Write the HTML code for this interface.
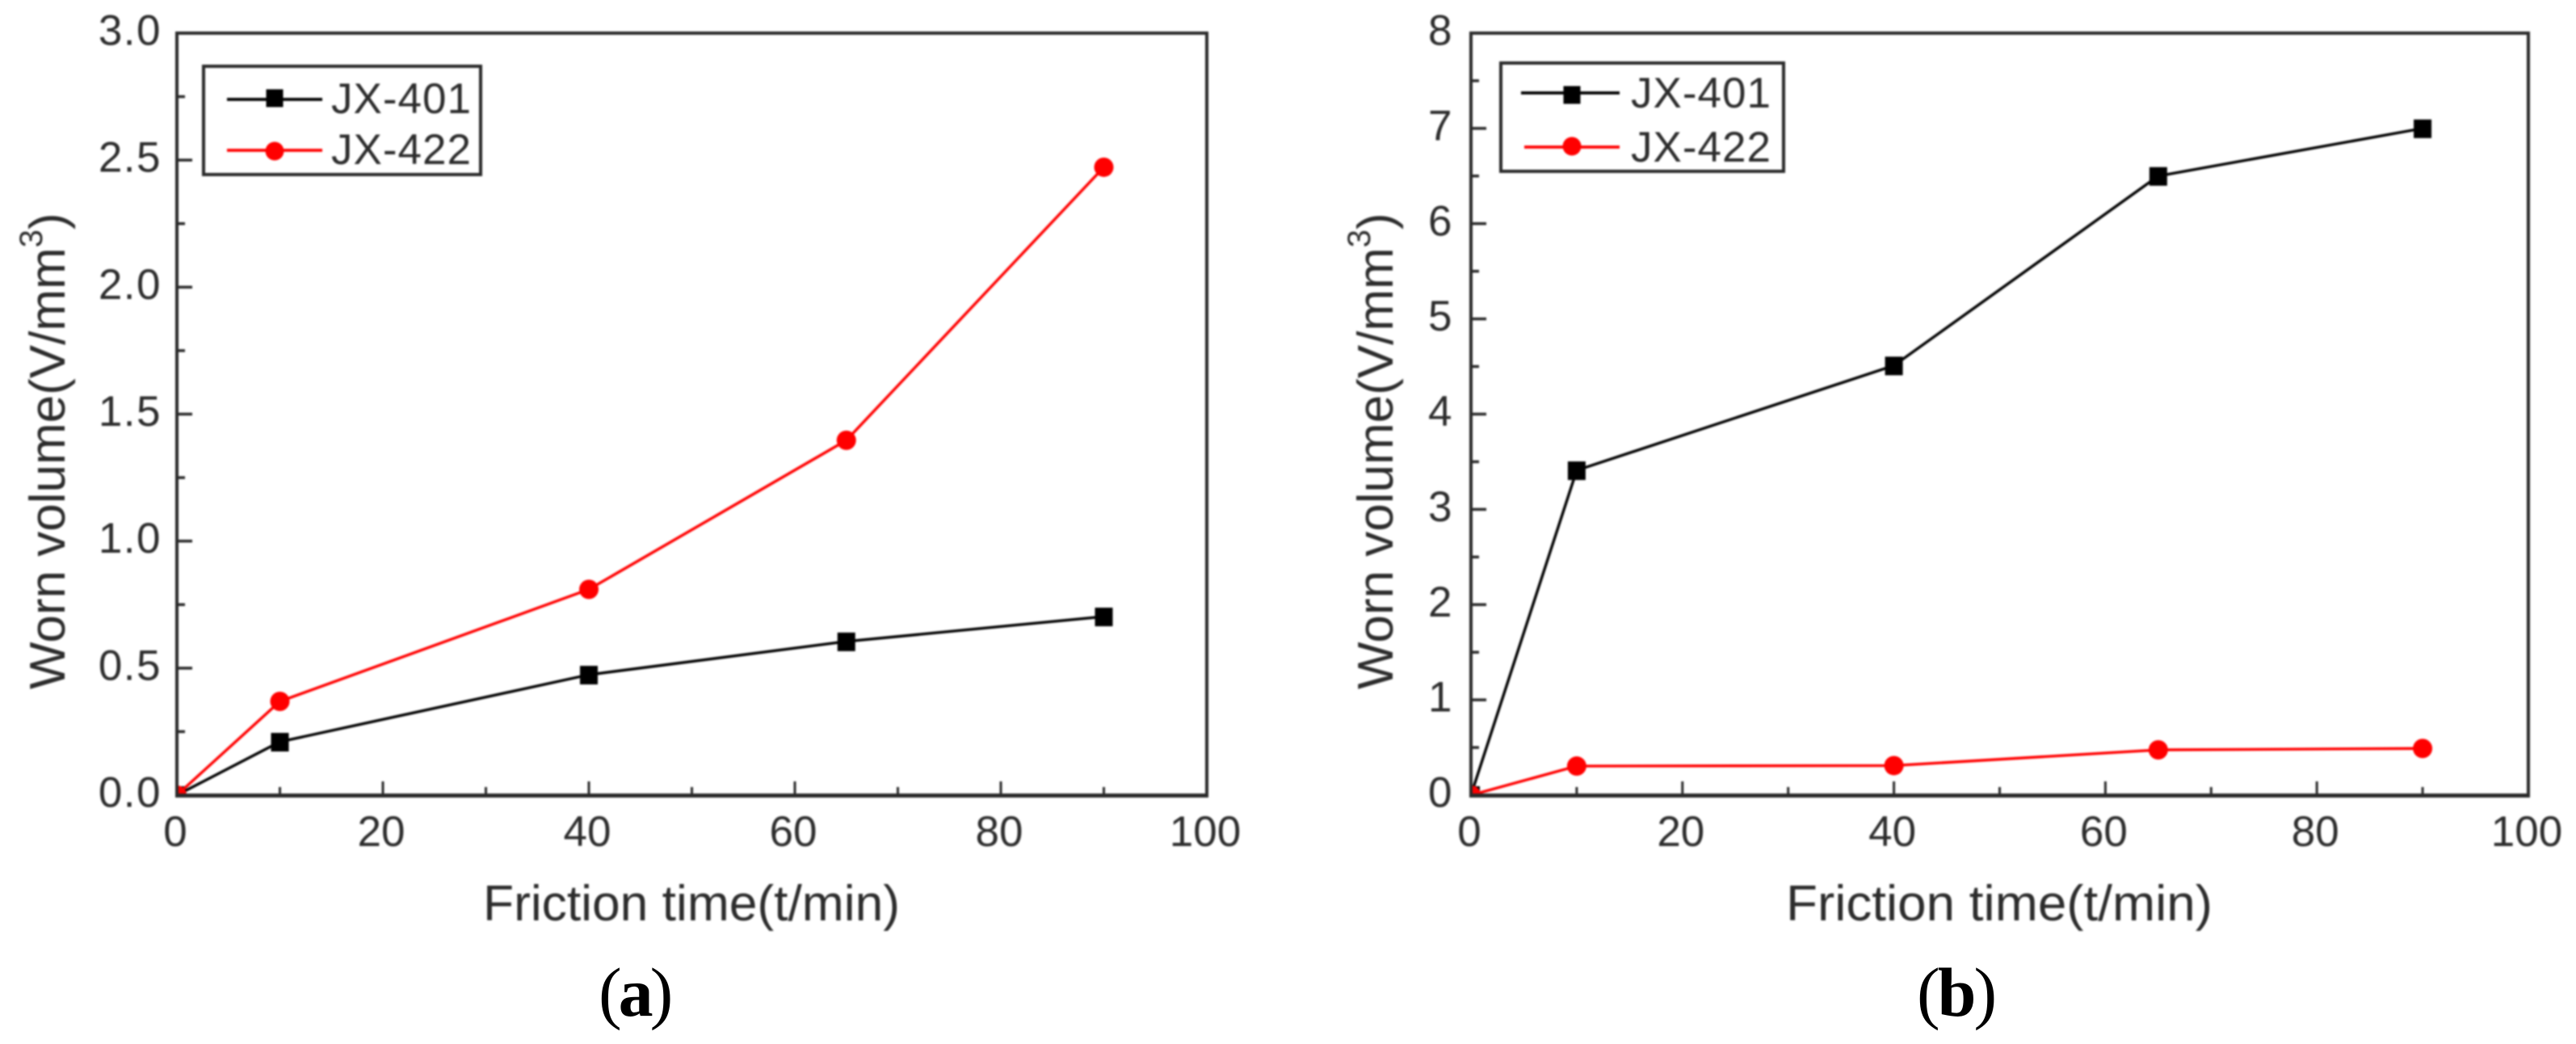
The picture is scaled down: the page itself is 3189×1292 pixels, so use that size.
<!DOCTYPE html>
<html lang="en">
<head>
<meta charset="utf-8">
<title>Worn volume vs friction time</title>
<style>
html,body{margin:0;padding:0;background:#fff;width:3189px;height:1292px;overflow:hidden}
svg{display:block}
text{font-family:"Liberation Sans",sans-serif;fill:#2c2c2c}
.cap{font-family:"Liberation Serif",serif;fill:#000}
</style>
</head>
<body>
<svg id="chart" xmlns="http://www.w3.org/2000/svg" width="3189" height="1292" viewBox="0 0 3189 1292">
  <rect width="3189" height="1292" fill="#fff"/>
</svg>
<script>
const frictionTimes = [0, 10, 40, 65, 90];
const panelAJX401 = [0, 0.21, 0.474, 0.605, 0.703];
const panelAJX422 = [0, 0.369, 0.81, 1.397, 2.472];
const panelBJX401 = [0, 3.41, 4.51, 6.5, 7.0];
const panelBJX422 = [0, 0.305, 0.31, 0.475, 0.49];
const xTickLabels = ["0", "20", "40", "60", "80", "100"];
const panelAYTickLabels = ["0.0", "0.5", "1.0", "1.5", "2.0", "2.5", "3.0"];
const panelBYTickLabels = ["0", "1", "2", "3", "4", "5", "6", "7", "8"];
const seriesNames = ["JX-401", "JX-422"];

const NS = "http://www.w3.org/2000/svg";
const root = document.getElementById("chart");

function mk(parent, tag, attrs, text) {
  const el = document.createElementNS(NS, tag);
  for (const k in attrs) el.setAttribute(k, attrs[k]);
  if (text !== undefined) el.textContent = text;
  parent.appendChild(el);
  return el;
}

function drawMarker(g, kind, color, cx, cy, size) {
  if (kind === "square") {
    return mk(g, "rect", {x: cx - size / 2, y: cy - size / 2, width: size, height: size + 1, fill: color});
  }
  return mk(g, "circle", {cx: cx, cy: cy, r: size / 2 + 1, fill: color});
}

function drawPanel(p) {
  const panel = mk(root, "g", {});
  
  

  const body = mk(panel, "g", {style: "filter:blur(1px)"});
  
  

  const xMax = Number(xTickLabels[xTickLabels.length - 1]);
  const yLabels = p.yLabels;
  const yMax = Number(yLabels[yLabels.length - 1]);
  const X = v => p.left + (v / xMax) * (p.right - p.left);
  const Y = v => p.bottom - (v / yMax) * (p.bottom - p.top);

  const clip = mk(body, "clipPath", {id: p.id + "-clip"});
  mk(clip, "rect", {x: p.left, y: p.top, width: p.right - p.left, height: p.bottom - p.top});

  // series
  const colors = ["#000000", "#ff0000"];
  const kinds = ["square", "circle"];
  p.series.forEach((vals, i) => {
    const g = mk(body, "g", {"clip-path": "url(#" + p.id + "-clip)"});
    
    
    const line = mk(g, "polyline", {
      points: vals.map((v, j) => X(frictionTimes[j]) + "," + Y(v)).join(" "),
      fill: "none", stroke: colors[i], "stroke-width": 3.4
    });
    
    
    vals.forEach((v, j) => {
      const m = drawMarker(g, kinds[i], colors[i], X(frictionTimes[j]), Y(v), 22);
      
      
    });
  });

  // frame
  const frame = mk(body, "rect", {x: p.left, y: p.top, width: p.right - p.left, height: p.bottom - p.top, fill: "none", stroke: "#2a2a2a", "stroke-width": 4});
  
  
  const xAxis = mk(body, "line", {x1: p.left - 2, x2: p.right + 2, y1: p.bottom + 0.5, y2: p.bottom + 0.5, stroke: "#2a2a2a", "stroke-width": 5});
  
  

  // x ticks
  xTickLabels.forEach((lab, i) => {
    const v = Number(lab);
    const t = mk(body, "line", {x1: X(v), x2: X(v), y1: p.bottom, y2: p.bottom - 17, stroke: "#2a2a2a", "stroke-width": 3});
    
    
    const l = mk(body, "text", {x: X(v) - 2, y: 1047, "font-size": 53, "text-anchor": "middle"}, lab);
    
    
    if (i < xTickLabels.length - 1) {
      const mid = (v + Number(xTickLabels[i + 1])) / 2;
      const mt = mk(body, "line", {x1: X(mid), x2: X(mid), y1: p.bottom, y2: p.bottom - 10, stroke: "#2a2a2a", "stroke-width": 3});
      
      
    }
  });

  // y ticks
  yLabels.forEach((lab, i) => {
    const v = Number(lab);
    const t = mk(body, "line", {x1: p.left, x2: p.left + 19, y1: Y(v), y2: Y(v), stroke: "#2a2a2a", "stroke-width": 3.5});
    
    
    const l = mk(body, "text", {x: p.yLabelX, y: Y(v) + 14.5, "font-size": 53, "text-anchor": "end", "letter-spacing": 1.5}, lab);
    
    
    if (i < yLabels.length - 1) {
      const mid = (v + Number(yLabels[i + 1])) / 2;
      const mt = mk(body, "line", {x1: p.left, x2: p.left + 10, y1: Y(mid), y2: Y(mid), stroke: "#2a2a2a", "stroke-width": 3.5});
      
      
    }
  });

  // axis titles
  const xt = mk(body, "text", {x: p.xTitleX, y: 1139, "font-size": 62, textLength: p.xTitleW, lengthAdjust: "spacingAndGlyphs"}, "Friction time(t/min)");
  
  

  const yt = mk(body, "text", {x: p.yTitleX, y: 853, "font-size": 62, transform: "rotate(-90 " + p.yTitleX + " 853)"});
  
  
  mk(yt, "tspan", {}, "Worn volume(V/mm");
  mk(yt, "tspan", {dy: -28, "font-size": 40}, "3");
  mk(yt, "tspan", {dy: 28}, ")");

  // legend
  const lg = mk(body, "g", {});
  
  
  const box = mk(lg, "rect", {x: p.leg.x, y: p.leg.y, width: p.leg.w, height: p.leg.h, fill: "#fff", stroke: "#2a2a2a", "stroke-width": 4});
  
  
  seriesNames.forEach((name, i) => {
    const e = mk(lg, "g", {});
    
    
    const ly = p.leg.lineY[i];
    mk(e, "line", {x1: p.leg.x1[i], x2: p.leg.x2, y1: ly, y2: ly, stroke: colors[i], "stroke-width": 3.8});
    drawMarker(e, kinds[i], colors[i], p.leg.mx, p.leg.markerY[i], 21);
    mk(e, "text", {x: p.leg.tx, y: p.leg.base[i], "font-size": 53, fill: "#1f1f1f", "letter-spacing": 1}, name);
  });

  // caption
  const c = mk(panel, "text", {class: "cap", x: p.capX, y: 1257, "font-size": 86, "letter-spacing": p.capLs});
  
  
  mk(c, "tspan", {}, "(");
  mk(c, "tspan", {"font-weight": "bold"}, p.id);
  mk(c, "tspan", {}, ")");
}

drawPanel({
  id: "a", left: 219, right: 1494, top: 41, bottom: 984,
  yLabels: panelAYTickLabels, series: [panelAJX401, panelAJX422],
  yLabelX: 200, xTitleX: 598, xTitleW: 516, yTitleX: 80, capX: 741, capLs: -4,
  leg: {x: 252, y: 82, w: 343, h: 134, x1: [281, 281], x2: 399, mx: 340, tx: 410, lineY: [123, 186], markerY: [121, 187], base: [140, 203]}
});
drawPanel({
  id: "b", left: 1821, right: 3130, top: 41, bottom: 984,
  yLabels: panelBYTickLabels, series: [panelBJX401, panelBJX422],
  yLabelX: 1799, xTitleX: 2211, xTitleW: 528, yTitleX: 1724, capX: 2373, capLs: -3,
  leg: {x: 1858, y: 78, w: 350, h: 134, x1: [1883, 1887], x2: 2005, mx: 1946, tx: 2019, lineY: [115, 182], markerY: [117, 181], base: [133, 200]}
});
</script>
</body>
</html>
